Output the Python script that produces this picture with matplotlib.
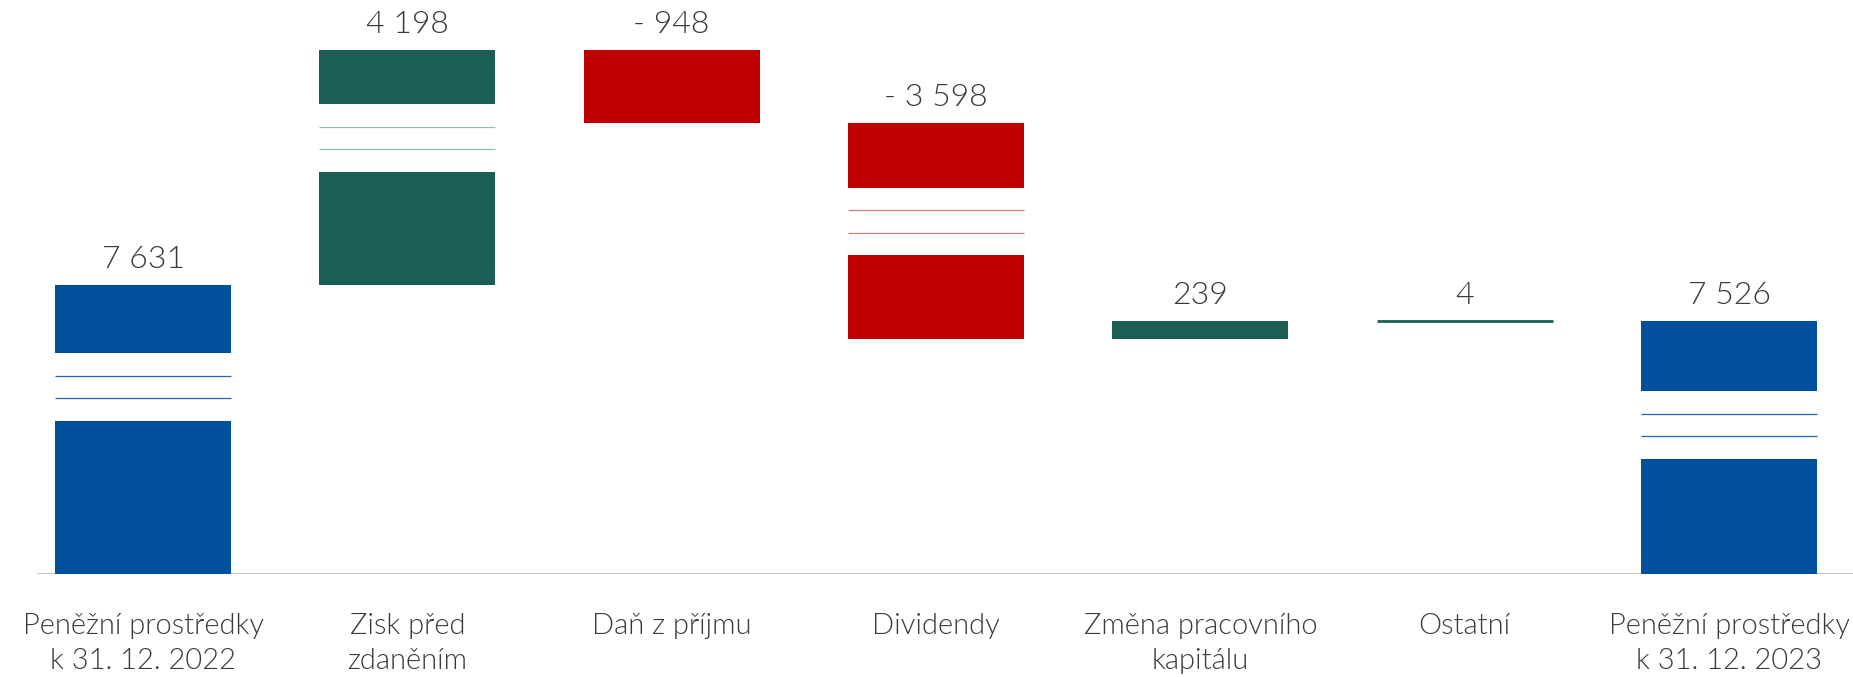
import matplotlib.pyplot as plt
from matplotlib import font_manager

plt.rcParams['font.family'] = ['Lato', 'DejaVu Sans']

# pick Lato Light if it is installed, else regular Lato
light = [f for f in font_manager.fontManager.ttflist
         if f.name == 'Lato' and f.weight == 300 and f.style == 'normal']
WEIGHT = 300 if light else 'normal'

# waterfall data (CZK m)
categories = ['Peněžní prostředky\nk 31. 12. 2022', 'Zisk před\nzdaněním', 'Daň z příjmu',
              'Dividendy', 'Změna pracovního\nkapitálu', 'Ostatní',
              'Peněžní prostředky\nk 31. 12. 2023']
values = [7631, 4198, -948, -3598, 239, 4, 7526]
kinds = ['total', 'delta', 'delta', 'delta', 'delta', 'delta', 'total']
# range of real values hidden by the axis break drawn inside each bar
breaks = [(2000, 6745), (9105, 11120), None, (8380, 10035), None, None, (1500, 6605)]

BLUE, GREEN, RED = '#00509e', '#1a5e55', '#c00000'
BREAK_COLORS = {BLUE: '#1f66b8', GREEN: '#8cc0b6', RED: '#dd7575'}
TEXT = '#3a3a3a'
GAP = 880          # display height of the break gap
YMAX = 7480


def fmt(v):
    s = f'{abs(v):,}'.replace(',', ' ')
    return '- ' + s if v < 0 else s


fig = plt.figure(figsize=(18.53, 6.77), dpi=100)
ax = fig.add_axes([0, 1 - 574 / 677, 1, 574 / 677])
ax.set_xlim(-0.541, 6.469)
ax.set_ylim(0, YMAX)
ax.axis('off')
ax.axhline(0, xmin=38 / 1853, xmax=1, color='#bfbfbf', lw=1.3, zorder=1)

width = 0.666
level_real, level_disp = 0, 0
for i, (v, kind, br) in enumerate(zip(values, kinds, breaks)):
    if kind == 'total':
        color = BLUE
        lo, hi = 0, v
    else:
        color = GREEN if v > 0 else RED
        lo, hi = sorted((level_real, level_real + v))
    height = (hi - lo) - (br[1] - br[0]) + GAP if br else hi - lo
    if kind == 'total':
        bottom = 0
    elif v > 0:
        bottom = level_disp
    else:
        bottom = level_disp - height
    top = bottom + height

    lw = 2.0 if abs(v) < 50 else 0
    if br:
        lower = br[0] - lo
        upper = hi - br[1]
        ax.bar(i, lower, width, bottom=bottom, color=color, lw=0, zorder=2)
        ax.bar(i, upper, width, bottom=top - upper, color=color, lw=0, zorder=2)
        g0 = bottom + lower
        for f in (1 / 3, 2 / 3):
            ax.plot([i - width / 2, i + width / 2], [g0 + GAP * f] * 2,
                    color=BREAK_COLORS[color], lw=0.9, zorder=2, solid_capstyle='butt')
    else:
        ax.bar(i, height, width, bottom=bottom, color=color, edgecolor=color, lw=lw, zorder=2)

    ax.annotate(fmt(v), (i, top), xytext=(0, 12), textcoords='offset points',
                ha='center', va='baseline', fontsize=23, fontweight=WEIGHT, color=TEXT)

    if kind == 'total':
        level_real, level_disp = v, height
    else:
        level_real += v
        level_disp = top if v > 0 else bottom

# category labels, one text per line so every first line shares a baseline
for i, cat in enumerate(categories):
    for j, line in enumerate(cat.split('\n')):
        ax.annotate(line, (i, 0), xycoords=('data', 'axes fraction'),
                    xytext=(0, -(60 + 35 * j) * 0.72), textcoords='offset points',
                    ha='center', va='baseline', fontsize=21, fontweight=WEIGHT, color=TEXT)

fig.savefig('out.png', dpi=100)
